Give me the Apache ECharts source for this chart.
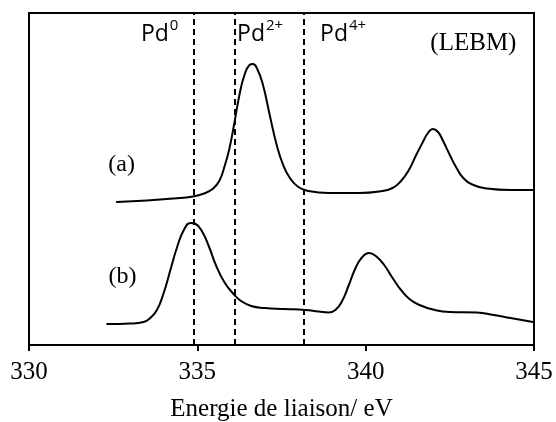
<!DOCTYPE html>
<html>
<head>
<meta charset="utf-8">
<script src="https://cdn.jsdelivr.net/npm/echarts@6/dist/echarts.min.js"></script>
<style>
  html, body { margin: 0; padding: 0; background: #fff; }
  #chart { width: 556px; height: 422px; }
</style>
</head>
<body>
<div id="chart"></div>
<script>
// Binding energy (eV) and relative intensity, spectrum (a)
const energyA = [332.61, 333.5, 334.3, 334.87, 335.2, 335.45, 335.65, 335.82, 335.95, 336.1,
  336.25, 336.4, 336.55, 336.65, 336.78, 336.95, 337.15, 337.35, 337.55, 337.75,
  338.0, 338.3, 338.9, 339.8, 340.4, 340.8, 341.05, 341.3, 341.5, 341.7,
  341.85, 342.0, 342.15, 342.3, 342.5, 342.7, 342.9, 343.2, 343.6, 344.3, 345.0];
const intensityA = [143, 144.5, 146.5, 148.5, 151.5, 156, 164, 180, 196, 222,
  250, 270, 280, 281, 276, 260, 230, 201, 180, 167,
  158, 154, 152, 152, 153.5, 157, 164, 176, 190, 203,
  212, 216, 213, 204, 190, 177, 167, 160, 156.5, 155, 155];

// Spectrum (b)
const energyB = [332.32, 333.0, 333.4, 333.6, 333.8, 334.0, 334.2, 334.4, 334.6, 334.8,
  334.95, 335.15, 335.35, 335.55, 335.8, 336.05, 336.3, 336.6, 337.0, 337.6,
  338.2, 338.6, 338.9, 339.1, 339.3, 339.5, 339.7, 339.9, 340.1, 340.3,
  340.55, 340.8, 341.05, 341.3, 341.6, 342.0, 342.5, 343.3, 343.8, 344.3, 344.97];
const intensityB = [21, 21.5, 23, 27, 35, 52, 75, 98, 115, 122,
  121, 113, 98, 80, 63, 52, 44, 39, 37, 36,
  35, 33.5, 32.5, 35, 44, 60, 77, 88, 92, 89,
  80, 67, 55, 46, 40, 35.5, 33, 32.5, 30, 27, 23];

// Reference positions of the palladium oxidation states
const refEnergies = [334.90, 336.12, 338.17];
const refLabels = [['Pd', '0'], ['Pd', '2+'], ['Pd', '4+']];

const xTicks = [330, 335, 340, 345];
const xTitle = 'Energie de liaison/ eV';
const curveLabels = ['(a)', '(b)'];
const sampleLabel = '(LEBM)';

const chart = echarts.init(document.getElementById('chart'));

const grid = { left: 29, right: 22, top: 13, bottom: 77 };
const serif = 'Liberation Serif';
const sans = 'Open Sans';

function pairs(xs, ys) { return xs.map((x, i) => [x, ys[i]]); }

const lineCommon = {
  type: 'line',
  showSymbol: false,
  smooth: 0.5,
  lineStyle: { color: '#000', width: 2, cap: 'round', join: 'round' },
  silent: true
};

chart.setOption({
  animation: false,
  backgroundColor: '#fff',
  grid: Object.assign({
    show: true, borderColor: '#000', borderWidth: 2, backgroundColor: 'transparent',
    containLabel: false, outerBoundsMode: 'none'
  }, grid),
  xAxis: {
    type: 'value',
    min: xTicks[0],
    max: xTicks[xTicks.length - 1],
    interval: 5,
    axisLine: { show: true, lineStyle: { color: '#000', width: 2 } },
    axisTick: { show: true, length: 6, lineStyle: { color: '#000', width: 2 } },
    axisLabel: { color: '#000', fontFamily: serif, fontSize: 25, margin: 15 },
    splitLine: { show: false },
    name: xTitle,
    nameLocation: 'middle',
    nameGap: 52,
    nameTextStyle: { color: '#000', fontFamily: serif, fontSize: 25 }
  },
  yAxis: {
    type: 'value', min: 0, max: 332,
    show: false
  },
  series: [
    Object.assign({}, lineCommon, {
      name: 'a',
      data: pairs(energyA, intensityA),
      markLine: {
        silent: true,
        symbol: 'none',
        label: { show: false },
        lineStyle: { color: '#000', width: 2, type: [6, 4] },
        data: refEnergies.map(e => ({ xAxis: e }))
      }
    }),
    Object.assign({}, lineCommon, { name: 'b', data: pairs(energyB, intensityB) })
  ]
});

// Text annotations placed through the axis scales
const g = [];
refEnergies.forEach((e, i) => {
  const p = chart.convertToPixel({ xAxisIndex: 0, yAxisIndex: 0 }, [e, 0]);
  const offsets = [-53, 2, 16];
  g.push({
    type: 'text',
    left: p[0] + offsets[i],
    top: 18,
    style: {
      text: '{m|' + refLabels[i][0] + '}{s|' + refLabels[i][1] + '}',
      rich: {
        m: { fontFamily: sans, fontSize: 23, fill: '#000', verticalAlign: 'bottom', lineHeight: 28 },
        s: { fontFamily: sans, fontSize: 15, fill: '#000', verticalAlign: 'top', lineHeight: 28, padding: [0, 0, 9, 1] }
      }
    }
  });
});
const pa = chart.convertToPixel({ xAxisIndex: 0, yAxisIndex: 0 }, [332.75, 180]);
const pb = chart.convertToPixel({ xAxisIndex: 0, yAxisIndex: 0 }, [332.78, 68]);
[[pa, curveLabels[0]], [pb, curveLabels[1]]].forEach(([p, t]) => {
  g.push({
    type: 'text', x: p[0], y: p[1],
    style: { text: t, fontFamily: serif, fontSize: 24, fill: '#000', align: 'center', verticalAlign: 'middle' }
  });
});
const pl = chart.convertToPixel({ xAxisIndex: 0, yAxisIndex: 0 }, [343.2, 302]);
g.push({
  type: 'text', x: pl[0], y: pl[1],
  style: { text: sampleLabel, fontFamily: serif, fontSize: 25, fill: '#000', align: 'center', verticalAlign: 'middle' }
});
chart.setOption({ graphic: g });
</script>
</body>
</html>
